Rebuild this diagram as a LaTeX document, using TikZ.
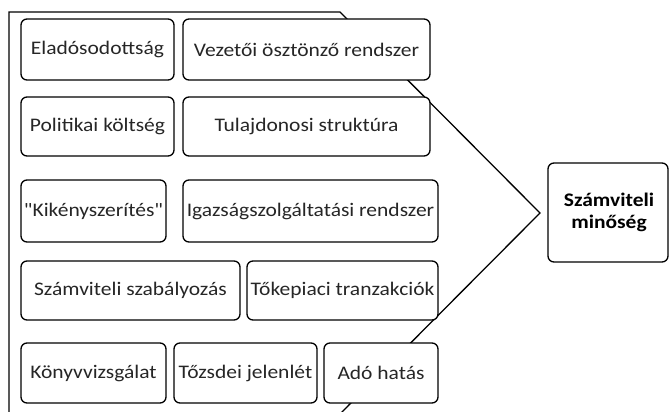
\documentclass[tikz,border=0pt]{standalone}
\usepackage{fontspec}
\newfontfamily\cfont{Carlito}[FakeStretch=1.12]
\begin{document}
\begin{tikzpicture}[x=1pt,y=-1pt,
  fbox/.style={draw=black, line width=1.3pt, fill=white, rounded corners=6pt},
  ftext/.style={font=\cfont\fontsize{19.2}{21}\selectfont, text=black!85},
  btext/.style={font=\cfont\fontsize{19.2}{22}\selectfont\bfseries, text=black, align=center}]
\useasboundingbox[fill=white] (0,0) rectangle (670,412);
% chevron outline
\coordinate (p1) at (9,430);
\coordinate (p2) at (9,12);
\coordinate (p3) at (340,12);
\coordinate (tip) at (540,213);
\coordinate (p5) at (330,424);
\draw[line width=1.3pt, line join=miter] (p1) -- (p2) -- (p3) -- (tip) -- (p5);
% boxes
\newcommand{\fbx}[6]{%
  \draw[fbox] (#2,#3) rectangle (#4,#5);
  \node[ftext] (#1) at ({(#2+#4)/2},{(#3+#5)/2}) {#6};}
\fbx{a}{21}{19}{174}{80}{Eladósodottság}
\fbx{b}{183}{19}{430}{80}{Vezetői ösztönző rendszer}
\fbx{c}{21}{97}{174}{156}{Politikai költség}
\fbx{d}{183}{97}{430}{156}{Tulajdonosi struktúra}
\fbx{e}{21}{180}{166}{242}{"Kikényszerítés"}
\fbx{f}{183}{180}{438}{242}{Igazságszolgáltatási rendszer}
\fbx{g}{21}{261}{240}{320}{Számviteli szabályozás}
\fbx{h}{247}{261}{438}{320}{Tőkepiaci tranzakciók}
\fbx{i}{21}{343}{166}{403}{Könyvvizsgálat}
\fbx{j}{174}{343}{317}{403}{Tőzsdei jelenlét}
\fbx{k}{324}{343}{438}{403}{Adó hatás}
\draw[fbox] (548,163) rectangle (668,262);
\node[btext] (q) at (609,212) {Számviteli\\minőség};
\end{tikzpicture}
\end{document}
